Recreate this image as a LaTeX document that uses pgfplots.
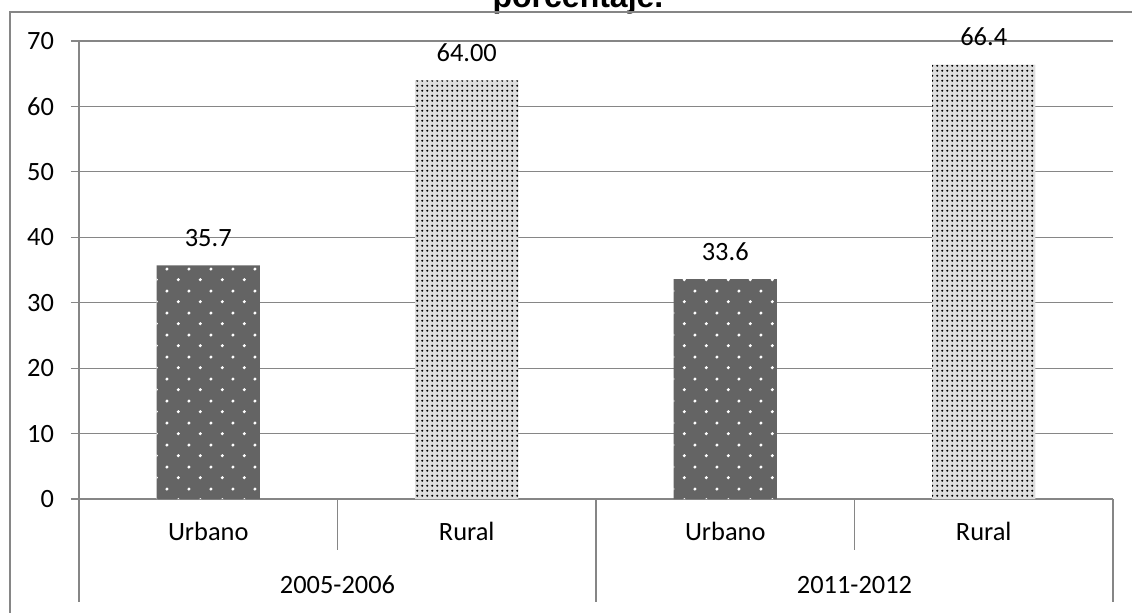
\documentclass[border=0pt]{standalone}
\usepackage{pgfplots}
\pgfplotsset{compat=1.18}
\usepackage{fontspec}
\setmainfont{Carlito}
\newfontfamily\titlefont{Liberation Sans}
\usetikzlibrary{patterns}

\definecolor{axisgray}{RGB}{134,134,134}
\definecolor{urbfill}{RGB}{100,100,100}
\definecolor{rurfill}{RGB}{222,222,222}

% staggered white dots on the dark bars
\pgfdeclarepatternformonly{whitedots}{\pgfpointorigin}{\pgfpoint{10.8pt}{10.8pt}}{\pgfpoint{10.8pt}{10.8pt}}{%
  \pgfpathcircle{\pgfpoint{2.7pt}{2.7pt}}{0.85pt}%
  \pgfpathcircle{\pgfpoint{8.1pt}{8.1pt}}{0.85pt}%
  \pgfusepath{fill}%
}
% fine dark dots on the light bars
\pgfdeclarepatternformonly{finedots}{\pgfpointorigin}{\pgfpoint{2.6pt}{2.6pt}}{\pgfpoint{2.6pt}{2.6pt}}{%
  \pgfpathcircle{\pgfpoint{1.3pt}{1.3pt}}{0.65pt}%
  \pgfusepath{fill}%
}

\newcommand{\lblfont}{\fontsize{13.2}{15}\selectfont}

\begin{document}
\begin{tikzpicture}
\begin{axis}[
  at={(0,0)}, anchor=south west,
  scale only axis, width=517pt, height=229pt,
  xmin=-0.5, xmax=3.5, ymin=0, ymax=70,
  clip=false,
  axis lines*=left,
  axis line style={draw=axisgray, line width=0.6pt, -},
  ymajorgrids, grid style={draw=axisgray, line width=0.6pt},
  ytick={0,10,...,70},
  tick align=outside, major tick length=4pt,
  ytick style={draw=axisgray, line width=0.6pt},
  yticklabel style={xshift=-5pt},
  xtick style={draw=none},
  xtick={0,1,2,3},
  xticklabels={Urbano,Rural,Urbano,Rural},
  xticklabel style={anchor=center, yshift=-12pt},
  extra x ticks={0.5,2.5},
  extra x tick labels={2005-2006,2011-2012},
  extra x tick style={xticklabel style={yshift=-27pt}},
  tick label style={font=\lblfont, text=black},
  /pgf/number format/assume math mode=true,
  ybar, bar width=0.4,
  nodes near coords, point meta=explicit symbolic,
  every node near coord/.append style={anchor=base, yshift=9.5pt, font=\lblfont, text=black},
]
\addplot[bar shift=0pt, draw=none, fill=urbfill,
  postaction={pattern=whitedots, pattern color=white}]
  coordinates {(0,35.7) [35.7] (2,33.6) [33.6]};
\addplot[bar shift=0pt, draw=none, fill=rurfill,
  postaction={pattern=finedots, pattern color=black}]
  coordinates {(1,64.00) [64.00] (3,66.4) [66.4]};

% category separators below the axis
\draw[axisgray, line width=0.6pt] (axis cs:-0.5,0) -- ++(0pt,-51.5pt);
\draw[axisgray, line width=0.6pt] (axis cs:1.5,0) -- ++(0pt,-51.5pt);
\draw[axisgray, line width=0.6pt] (axis cs:3.5,0) -- ++(0pt,-51.5pt);
\draw[axisgray, line width=0.6pt] (axis cs:0.5,0) -- ++(0pt,-25.5pt);
\draw[axisgray, line width=0.6pt] (axis cs:2.5,0) -- ++(0pt,-25.5pt);
\end{axis}

\node[font=\titlefont\bfseries\fontsize{16}{19}\selectfont, anchor=base] at (249.5pt,245.5pt) {porcentaje.};
\draw[axisgray, line width=0.6pt] (530pt,243.5pt) -- (-34.5pt,243.5pt) -- (-34.5pt,-60pt);

\pgfresetboundingbox
\useasboundingbox (-39.5pt,-56.5pt) rectangle (526.5pt,249.5pt);
\end{tikzpicture}
\end{document}
